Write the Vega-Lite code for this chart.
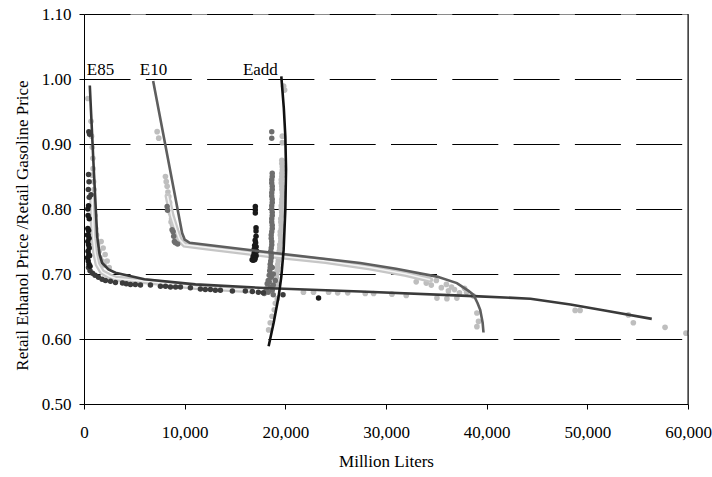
{
  "$schema": "https://vega.github.io/schema/vega-lite/v6.json",
  "width": 604,
  "height": 390,
  "autosize": {"type": "none"},
  "padding": {"left": 84, "top": 14, "right": 24, "bottom": 73},
  "background": "white",
  "config": {
    "view": {"stroke": "#8a8a8a", "strokeWidth": 1}
  },
  "datasets": {
    "pts": [
      {"x":380,"y":0.97,"g":"light"},{"x":700,"y":0.935,"g":"light"},{"x":750,"y":0.912,"g":"light"},{"x":820,"y":0.895,"g":"light"},{"x":880,"y":0.878,"g":"light"},{"x":900,"y":0.862,"g":"light"},{"x":800,"y":0.852,"g":"light"},{"x":950,"y":0.842,"g":"light"},{"x":1000,"y":0.83,"g":"light"},{"x":850,"y":0.818,"g":"light"},{"x":1000,"y":0.8,"g":"light"},{"x":1100,"y":0.79,"g":"light"},{"x":950,"y":0.78,"g":"light"},{"x":1150,"y":0.77,"g":"light"},{"x":1250,"y":0.76,"g":"light"},{"x":1700,"y":0.75,"g":"light"},{"x":1900,"y":0.74,"g":"light"},{"x":2100,"y":0.73,"g":"light"},{"x":2300,"y":0.72,"g":"light"},{"x":2000,"y":0.714,"g":"light"},{"x":2500,"y":0.71,"g":"light"},{"x":1500,"y":0.735,"g":"light"},{"x":1350,"y":0.745,"g":"light"},{"x":1600,"y":0.725,"g":"light"},{"x":1800,"y":0.72,"g":"light"},
      {"x":21800,"y":0.672,"g":"light"},{"x":22800,"y":0.672,"g":"light"},{"x":24300,"y":0.672,"g":"light"},{"x":25200,"y":0.671,"g":"light"},{"x":26200,"y":0.671,"g":"light"},{"x":27940,"y":0.67,"g":"light"},{"x":28770,"y":0.67,"g":"light"},{"x":30590,"y":0.669,"g":"light"},{"x":32010,"y":0.667,"g":"light"},{"x":35060,"y":0.663,"g":"light"},{"x":36050,"y":0.662,"g":"light"},{"x":37040,"y":0.663,"g":"light"},{"x":48790,"y":0.644,"g":"light"},{"x":49280,"y":0.644,"g":"light"},{"x":54080,"y":0.637,"g":"light"},{"x":54570,"y":0.625,"g":"light"},{"x":57720,"y":0.618,"g":"light"},{"x":59800,"y":0.609,"g":"light"},
      {"x":7266,"y":0.919,"g":"light"},{"x":7425,"y":0.909,"g":"light"},{"x":8090,"y":0.85,"g":"light"},{"x":8170,"y":0.842,"g":"light"},{"x":8260,"y":0.835,"g":"light"},{"x":8340,"y":0.826,"g":"light"},{"x":8420,"y":0.819,"g":"light"},{"x":8500,"y":0.81,"g":"light"},{"x":8590,"y":0.794,"g":"light"},{"x":8700,"y":0.785,"g":"light"},{"x":8800,"y":0.775,"g":"light"},{"x":8900,"y":0.768,"g":"light"},{"x":9000,"y":0.762,"g":"light"},{"x":9080,"y":0.758,"g":"light"},{"x":9200,"y":0.752,"g":"light"},{"x":9400,"y":0.748,"g":"light"},{"x":8400,"y":0.8,"g":"light"},{"x":8650,"y":0.78,"g":"light"},
      {"x":33000,"y":0.688,"g":"light"},{"x":34500,"y":0.683,"g":"light"},{"x":35000,"y":0.69,"g":"light"},{"x":35500,"y":0.679,"g":"light"},{"x":36000,"y":0.684,"g":"light"},{"x":36200,"y":0.674,"g":"light"},{"x":36800,"y":0.676,"g":"light"},{"x":37300,"y":0.671,"g":"light"},{"x":37800,"y":0.678,"g":"light"},{"x":38000,"y":0.672,"g":"light"},{"x":38690,"y":0.666,"g":"light"},{"x":39030,"y":0.64,"g":"light"},{"x":39190,"y":0.627,"g":"light"},{"x":39030,"y":0.619,"g":"light"},{"x":34000,"y":0.686,"g":"light"},{"x":36500,"y":0.68,"g":"light"},
      {"x":19830,"y":0.989,"g":"light"},{"x":19930,"y":0.983,"g":"light"},{"x":19700,"y":0.912,"g":"light"},{"x":19700,"y":0.902,"g":"light"},{"x":19650,"y":0.875,"g":"light"},{"x":19650,"y":0.87,"g":"light"},{"x":19700,"y":0.865,"g":"light"},{"x":19700,"y":0.86,"g":"light"},{"x":19650,"y":0.855,"g":"light"},{"x":19650,"y":0.85,"g":"light"},{"x":19600,"y":0.845,"g":"light"},{"x":19600,"y":0.84,"g":"light"},{"x":19650,"y":0.835,"g":"light"},{"x":19650,"y":0.83,"g":"light"},{"x":19700,"y":0.825,"g":"light"},{"x":19700,"y":0.82,"g":"light"},{"x":19650,"y":0.815,"g":"light"},{"x":19650,"y":0.81,"g":"light"},{"x":19600,"y":0.805,"g":"light"},{"x":19600,"y":0.8,"g":"light"},{"x":19650,"y":0.795,"g":"light"},{"x":19650,"y":0.79,"g":"light"},{"x":19550,"y":0.785,"g":"light"},{"x":19550,"y":0.78,"g":"light"},{"x":19600,"y":0.775,"g":"light"},{"x":19600,"y":0.77,"g":"light"},{"x":19500,"y":0.765,"g":"light"},{"x":19500,"y":0.76,"g":"light"},{"x":19550,"y":0.755,"g":"light"},{"x":19550,"y":0.75,"g":"light"},{"x":19450,"y":0.745,"g":"light"},{"x":19450,"y":0.74,"g":"light"},{"x":19400,"y":0.735,"g":"light"},{"x":19350,"y":0.73,"g":"light"},{"x":19300,"y":0.725,"g":"light"},{"x":19300,"y":0.72,"g":"light"},{"x":19250,"y":0.715,"g":"light"},{"x":19250,"y":0.71,"g":"light"},{"x":19200,"y":0.705,"g":"light"},{"x":19150,"y":0.7,"g":"light"},{"x":19100,"y":0.695,"g":"light"},{"x":19050,"y":0.69,"g":"light"},{"x":19000,"y":0.68,"g":"light"},{"x":19200,"y":0.685,"g":"light"},{"x":19200,"y":0.662,"g":"light"},{"x":19010,"y":0.655,"g":"light"},{"x":18900,"y":0.645,"g":"light"},{"x":18680,"y":0.635,"g":"light"},{"x":18500,"y":0.625,"g":"light"},{"x":18340,"y":0.614,"g":"light"},
      {"x":8260,"y":0.804,"g":"mid"},{"x":8300,"y":0.798,"g":"mid"},{"x":8750,"y":0.768,"g":"mid"},{"x":8850,"y":0.765,"g":"mid"},{"x":8910,"y":0.758,"g":"mid"},{"x":8980,"y":0.75,"g":"mid"},{"x":9080,"y":0.748,"g":"mid"},{"x":9300,"y":0.746,"g":"mid"},
      {"x":18650,"y":0.919,"g":"mid"},{"x":18650,"y":0.909,"g":"mid"},{"x":18700,"y":0.855,"g":"mid"},{"x":18700,"y":0.85,"g":"mid"},{"x":18650,"y":0.845,"g":"mid"},{"x":18650,"y":0.84,"g":"mid"},{"x":18700,"y":0.835,"g":"mid"},{"x":18700,"y":0.83,"g":"mid"},{"x":18650,"y":0.825,"g":"mid"},{"x":18650,"y":0.82,"g":"mid"},{"x":18700,"y":0.815,"g":"mid"},{"x":18700,"y":0.81,"g":"mid"},{"x":18650,"y":0.805,"g":"mid"},{"x":18650,"y":0.8,"g":"mid"},{"x":18700,"y":0.795,"g":"mid"},{"x":18700,"y":0.79,"g":"mid"},{"x":18650,"y":0.785,"g":"mid"},{"x":18650,"y":0.78,"g":"mid"},{"x":18700,"y":0.775,"g":"mid"},{"x":18700,"y":0.77,"g":"mid"},{"x":18650,"y":0.765,"g":"mid"},{"x":18600,"y":0.76,"g":"mid"},{"x":18600,"y":0.755,"g":"mid"},{"x":18650,"y":0.75,"g":"mid"},{"x":18650,"y":0.745,"g":"mid"},{"x":18600,"y":0.74,"g":"mid"},{"x":18550,"y":0.735,"g":"mid"},{"x":18600,"y":0.73,"g":"mid"},{"x":18600,"y":0.725,"g":"mid"},{"x":18550,"y":0.72,"g":"mid"},{"x":18500,"y":0.715,"g":"mid"},{"x":18500,"y":0.71,"g":"mid"},{"x":18450,"y":0.705,"g":"mid"},{"x":18400,"y":0.698,"g":"mid"},{"x":18300,"y":0.69,"g":"mid"},{"x":18200,"y":0.685,"g":"mid"},{"x":18500,"y":0.68,"g":"mid"},{"x":18800,"y":0.683,"g":"mid"},{"x":19000,"y":0.69,"g":"mid"},{"x":18700,"y":0.675,"g":"mid"},{"x":18300,"y":0.672,"g":"mid"},{"x":17900,"y":0.67,"g":"mid"},{"x":18800,"y":0.668,"g":"mid"},{"x":18100,"y":0.677,"g":"mid"},{"x":18600,"y":0.695,"g":"mid"},{"x":18800,"y":0.7,"g":"mid"},{"x":18700,"y":0.71,"g":"mid"},{"x":18400,"y":0.688,"g":"mid"},
      {"x":480,"y":0.919,"g":"dark"},{"x":560,"y":0.915,"g":"dark"},{"x":450,"y":0.853,"g":"dark"},{"x":500,"y":0.842,"g":"dark"},{"x":430,"y":0.83,"g":"dark"},{"x":700,"y":0.822,"g":"dark"},{"x":520,"y":0.818,"g":"dark"},
      {"x":447,"y":0.71,"g":"dark"},{"x":844,"y":0.701,"g":"dark"},{"x":1440,"y":0.695,"g":"dark"},{"x":2134,"y":0.69,"g":"dark"},{"x":2630,"y":0.689,"g":"dark"},{"x":3127,"y":0.687,"g":"dark"},{"x":3822,"y":0.686,"g":"dark"},{"x":4616,"y":0.684,"g":"dark"},{"x":5608,"y":0.683,"g":"dark"},{"x":6600,"y":0.683,"g":"dark"},{"x":7593,"y":0.681,"g":"dark"},{"x":8586,"y":0.68,"g":"dark"},{"x":9579,"y":0.68,"g":"dark"},{"x":10571,"y":0.679,"g":"dark"},{"x":11564,"y":0.677,"g":"dark"},{"x":12557,"y":0.676,"g":"dark"},{"x":13549,"y":0.675,"g":"dark"},{"x":14740,"y":0.674,"g":"dark"},{"x":16030,"y":0.674,"g":"dark"},{"x":16725,"y":0.673,"g":"dark"},{"x":17320,"y":0.672,"g":"dark"},{"x":17820,"y":0.671,"g":"dark"},{"x":19770,"y":0.668,"g":"dark"},{"x":600,"y":0.705,"g":"dark"},{"x":1100,"y":0.698,"g":"dark"},{"x":1800,"y":0.692,"g":"dark"},{"x":4200,"y":0.685,"g":"dark"},{"x":5100,"y":0.684,"g":"dark"},{"x":8100,"y":0.681,"g":"dark"},{"x":9100,"y":0.68,"g":"dark"},{"x":12050,"y":0.676,"g":"dark"},{"x":13050,"y":0.675,"g":"dark"},
      {"x":380,"y":0.8,"g":"black"},{"x":450,"y":0.805,"g":"black"},{"x":400,"y":0.79,"g":"black"},{"x":520,"y":0.785,"g":"black"},{"x":380,"y":0.77,"g":"black"},{"x":460,"y":0.767,"g":"black"},{"x":420,"y":0.76,"g":"black"},{"x":500,"y":0.755,"g":"black"},{"x":380,"y":0.75,"g":"black"},{"x":450,"y":0.745,"g":"black"},{"x":520,"y":0.74,"g":"black"},{"x":400,"y":0.735,"g":"black"},{"x":480,"y":0.73,"g":"black"},{"x":560,"y":0.728,"g":"black"},{"x":420,"y":0.72,"g":"black"},{"x":500,"y":0.715,"g":"black"},{"x":600,"y":0.712,"g":"black"},{"x":350,"y":0.725,"g":"black"},{"x":350,"y":0.76,"g":"black"},
      {"x":17020,"y":0.804,"g":"black"},{"x":17020,"y":0.799,"g":"black"},{"x":17020,"y":0.794,"g":"black"},{"x":17090,"y":0.771,"g":"black"},{"x":17090,"y":0.766,"g":"black"},{"x":17090,"y":0.758,"g":"black"},{"x":17000,"y":0.752,"g":"black"},{"x":17050,"y":0.748,"g":"black"},{"x":16950,"y":0.744,"g":"black"},{"x":17100,"y":0.742,"g":"black"},{"x":16900,"y":0.738,"g":"black"},{"x":17050,"y":0.736,"g":"black"},{"x":17150,"y":0.735,"g":"black"},{"x":16900,"y":0.732,"g":"black"},{"x":17000,"y":0.73,"g":"black"},{"x":17100,"y":0.728,"g":"black"},{"x":16800,"y":0.727,"g":"black"},{"x":16900,"y":0.725,"g":"black"},{"x":17000,"y":0.724,"g":"black"},{"x":16700,"y":0.722,"g":"black"},{"x":16800,"y":0.721,"g":"black"},{"x":16950,"y":0.722,"g":"black"},{"x":23300,"y":0.663,"g":"black"}
    ],
    "band": [
      {"c":"E85","o":1,"x":800,"y":0.82},{"c":"E85","o":2,"x":870,"y":0.78},{"c":"E85","o":3,"x":950,"y":0.755},{"c":"E85","o":4,"x":1100,"y":0.733},{"c":"E85","o":5,"x":1340,"y":0.715},{"c":"E85","o":6,"x":1800,"y":0.703},{"c":"E85","o":7,"x":2500,"y":0.697},{"c":"E85","o":8,"x":3127,"y":0.693},{"c":"E85","o":9,"x":6600,"y":0.688},{"c":"E85","o":10,"x":11068,"y":0.68},{"c":"E85","o":11,"x":16500,"y":0.675},
      {"c":"E10","o":1,"x":8300,"y":0.82},{"c":"E10","o":2,"x":8700,"y":0.79},{"c":"E10","o":3,"x":9150,"y":0.768},{"c":"E10","o":4,"x":9500,"y":0.753},{"c":"E10","o":5,"x":10000,"y":0.745},{"c":"E10","o":6,"x":12000,"y":0.741},{"c":"E10","o":7,"x":18512,"y":0.729},{"c":"E10","o":8,"x":24000,"y":0.72},{"c":"E10","o":9,"x":28438,"y":0.71},{"c":"E10","o":10,"x":32000,"y":0.7},{"c":"E10","o":11,"x":34390,"y":0.691}
    ],
    "fit": [
      {"c":"E85","o":1,"x":576,"y":0.99},{"c":"E85","o":2,"x":973,"y":0.86},{"c":"E85","o":3,"x":1310,"y":0.758},{"c":"E85","o":4,"x":1550,"y":0.73},{"c":"E85","o":5,"x":1806,"y":0.717},{"c":"E85","o":6,"x":2432,"y":0.707},{"c":"E85","o":7,"x":3127,"y":0.702},{"c":"E85","o":8,"x":6000,"y":0.692},{"c":"E85","o":9,"x":11068,"y":0.684},{"c":"E85","o":10,"x":18512,"y":0.678},{"c":"E85","o":11,"x":27446,"y":0.673},{"c":"E85","o":12,"x":38692,"y":0.666},{"c":"E85","o":13,"x":44350,"y":0.662},{"c":"E85","o":14,"x":48320,"y":0.653},{"c":"E85","o":15,"x":52000,"y":0.643},{"c":"E85","o":16,"x":56400,"y":0.631},
      {"c":"E10","o":1,"x":6869,"y":0.997},{"c":"E10","o":2,"x":9747,"y":0.763},{"c":"E10","o":3,"x":10000,"y":0.753},{"c":"E10","o":4,"x":10500,"y":0.748},{"c":"E10","o":5,"x":18512,"y":0.733},{"c":"E10","o":6,"x":27446,"y":0.717},{"c":"E10","o":7,"x":31000,"y":0.708},{"c":"E10","o":8,"x":35059,"y":0.696},{"c":"E10","o":9,"x":37044,"y":0.686},{"c":"E10","o":10,"x":38200,"y":0.674},{"c":"E10","o":11,"x":38692,"y":0.668},{"c":"E10","o":12,"x":39100,"y":0.655},{"c":"E10","o":13,"x":39357,"y":0.645},{"c":"E10","o":14,"x":39600,"y":0.625},{"c":"E10","o":15,"x":39685,"y":0.61},
      {"c":"Eadd","o":1,"x":19600,"y":1.004},{"c":"Eadd","o":2,"x":19850,"y":0.955},{"c":"Eadd","o":3,"x":20000,"y":0.912},{"c":"Eadd","o":4,"x":20070,"y":0.861},{"c":"Eadd","o":5,"x":20000,"y":0.799},{"c":"Eadd","o":6,"x":19830,"y":0.737},{"c":"Eadd","o":7,"x":19600,"y":0.696},{"c":"Eadd","o":8,"x":19340,"y":0.666},{"c":"Eadd","o":9,"x":18840,"y":0.625},{"c":"Eadd","o":10,"x":18340,"y":0.589}
    ],
    "labels": [
      {"t":"E85","x":1640,"y":1.0066},{"t":"E10","x":6900,"y":1.0066},{"t":"Eadd","x":17520,"y":1.0066}
    ]
  },
  "layer": [
    {
      "data": {"name": "pts"},
      "transform": [{"filter": "datum.g === 'light'"}],
      "mark": {"type": "circle", "size": 32, "opacity": 1, "color": "#bebebe"},
      "encoding": {
        "x": {"field": "x", "type": "quantitative", "scale": {"domain": [0, 60000], "nice": false, "zero": false},
              "axis": {"values": [0, 10000, 20000, 30000, 40000, 50000, 60000], "format": ",.0f", "title": "Million Liters", "grid": false,
                       "labelFont": "Liberation Serif", "labelFontSize": 17, "labelColor": "black", "titleFont": "Liberation Serif", "titleFontSize": 17, "titleFontWeight": "normal", "titleColor": "black",
                       "domainColor": "black", "tickColor": "black", "tickSize": 5, "labelPadding": 15, "titlePadding": 13, "labelFlush": false}},
        "y": {"field": "y", "type": "quantitative", "scale": {"domain": [0.5, 1.1], "nice": false, "zero": false},
              "axis": {"values": [0.5, 0.6, 0.7, 0.8, 0.9, 1.0, 1.1], "format": ".2f", "title": "Retail Ethanol Price /Retail Gasoline Price", "grid": true, "gridColor": "black", "gridWidth": 1, "gridDash": [46, 15.3],
                       "labelFont": "Liberation Serif", "labelFontSize": 17, "labelColor": "black", "titleFont": "Liberation Serif", "titleFontSize": 17, "titleFontWeight": "normal", "titleColor": "black",
                       "domainColor": "black", "tickColor": "black", "tickSize": 5, "labelPadding": 8, "titlePadding": 10, "titleY": 211, "labelFlush": false}}
      }
    },
    {
      "data": {"name": "band"},
      "mark": {"type": "line", "color": "#c6c6c6", "strokeWidth": 6, "strokeCap": "round"},
      "encoding": {"x": {"field": "x", "type": "quantitative"}, "y": {"field": "y", "type": "quantitative"}, "detail": {"field": "c"}, "order": {"field": "o"}}
    },
    {
      "data": {"name": "band"},
      "mark": {"type": "line", "color": "#f4f4f4", "strokeWidth": 1.5},
      "encoding": {"x": {"field": "x", "type": "quantitative"}, "y": {"field": "y", "type": "quantitative"}, "detail": {"field": "c"}, "order": {"field": "o"}}
    },
    {
      "data": {"name": "pts"},
      "transform": [{"filter": "datum.g !== 'light'"}],
      "mark": {"type": "circle", "size": 30, "opacity": 1},
      "encoding": {
        "x": {"field": "x", "type": "quantitative"},
        "y": {"field": "y", "type": "quantitative"},
        "color": {"field": "g", "type": "nominal", "scale": {"domain": ["mid", "dark", "black"], "range": ["#6e6e6e", "#3c3c3c", "#1a1a1a"]}, "legend": null}
      }
    },
    {
      "data": {"name": "fit"},
      "mark": {"type": "line", "strokeWidth": 2.6},
      "encoding": {
        "x": {"field": "x", "type": "quantitative"},
        "y": {"field": "y", "type": "quantitative"},
        "detail": {"field": "c"},
        "order": {"field": "o"},
        "stroke": {"field": "c", "type": "nominal", "scale": {"domain": ["E85", "E10", "Eadd"], "range": ["#3a3a3a", "#5e5e5e", "#111111"]}, "legend": null}
      }
    },
    {
      "data": {"name": "labels"},
      "mark": {"type": "text", "font": "Liberation Serif", "fontSize": 17, "color": "black", "align": "center", "baseline": "alphabetic"},
      "encoding": {"x": {"field": "x", "type": "quantitative"}, "y": {"field": "y", "type": "quantitative"}, "text": {"field": "t"}}
    },
    {
      "data": {"values": [{"x": 60000}]},
      "mark": {"type": "rule", "color": "black", "strokeWidth": 1},
      "encoding": {"x": {"field": "x", "type": "quantitative"}}
    }
  ]
}
